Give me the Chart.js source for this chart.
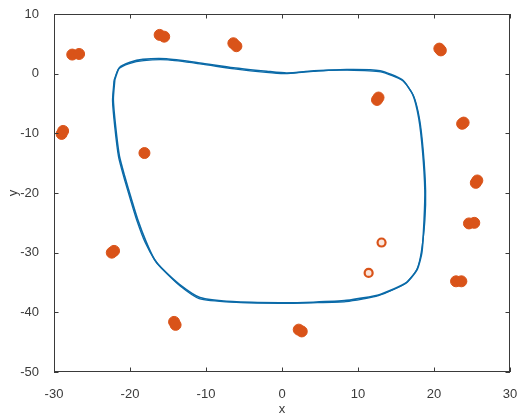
<!DOCTYPE html>
<html>
<head>
<meta charset="utf-8">
<script src="https://cdn.jsdelivr.net/npm/chart.js@4"></script>
<style>
  html, body { margin: 0; padding: 0; background: #ffffff; }
  #wrap { width: 517px; height: 418px; }
</style>
</head>
<body>
<div id="wrap"><canvas id="c" width="517" height="418"></canvas></div>
<script>
// Closed trajectory, first pass (clockwise from the upper-left corner)
const loopX1 = [-22.0, -21.4, -20.0, -18.3, -15.2, -10.8, -6.4, -2.0, 0.6, 4.1, 8.5, 12.9, 15.8, 17.2, 18.0, 18.5, 18.8, 18.7, 18.4, 17.8, 16.4, 12.9, 8.5, 4.1, -0.3, -6.5, -10.8, -13.5, -15.9, -16.8, -17.9, -19.0, -19.8, -20.7, -21.4, -21.9, -22.2, -22.0];
const loopY1 = [-1.0, 1.0, 1.9, 2.4, 2.5, 1.8, 1.0, 0.4, 0.1, 0.4, 0.7, 0.5, -1.0, -3.5, -7.5, -13.0, -19.5, -24.5, -30.0, -32.8, -35.0, -37.0, -38.0, -38.3, -38.4, -38.2, -37.5, -35.3, -32.5, -31.1, -28.1, -24.4, -21.1, -17.2, -13.8, -8.8, -4.3, -1.0];

// Second pass of the same trajectory
const loopX2 = [-22.1, -21.5, -20.1, -18.2, -15.0, -10.6, -6.3, -2.1, 0.4, 4.2, 8.6, 13.0, 15.9, 17.3, 18.1, 18.6, 18.9, 18.8, 18.3, 17.7, 16.2, 12.7, 8.4, 4.0, -0.4, -6.6, -10.9, -13.4, -15.7, -16.7, -18.0, -19.1, -19.9, -20.8, -21.5, -22.0, -22.3, -22.1];
const loopY2 = [-1.1, 0.8, 1.7, 2.2, 2.3, 1.6, 0.8, 0.2, 0.0, 0.5, 0.6, 0.3, -1.2, -3.7, -7.6, -13.1, -19.6, -24.6, -30.1, -32.9, -35.2, -37.2, -38.2, -38.4, -38.5, -38.3, -37.7, -35.6, -32.8, -31.3, -28.3, -24.6, -21.3, -17.4, -14.0, -9.0, -4.5, -1.1];

// Landmark observations (filled clusters)
const markX = [-27.6, -26.7, -16.1, -15.5, -6.4, -6.0, -29.0, -28.8, -18.1, 20.7, 20.9, 12.5, 12.7, 23.7, 23.9, 25.5, 25.7, 24.6, 25.3, 22.9, 23.6, 2.2, 2.6, -22.4, -22.1, -14.2, -14.0];
const markY = [3.2, 3.3, 6.5, 6.2, 5.1, 4.6, -10.1, -9.6, -13.3, 4.2, 3.9, -4.4, -4.0, -8.4, -8.2, -18.3, -17.9, -25.1, -25.0, -34.8, -34.8, -42.9, -43.2, -30.0, -29.7, -41.6, -42.1];

// Single observations (open circles)
const ringX = [13.1, 11.4];
const ringY = [-28.3, -33.4];

// Axis ticks
const xTicks = [-30, -20, -10, 0, 10, 20, 30];
const yTicks = [-50, -40, -30, -20, -10, 0, 10];

const toPoints = (xs, ys) => xs.map((x, i) => ({ x: x, y: ys[i] }));

const BLUE = '#0a6aa8';
const ORANGE = '#D95319';
const AXIS = '#3a3a3a';
const FONT = "'Liberation Sans', Arial, Helvetica, sans-serif";

// Box outline with inward tick marks on all four sides
const boxAxes = {
  id: 'boxAxes',
  afterDatasetsDraw(chart) {
    const { ctx, chartArea: a, scales } = chart;
    const len = 4.5;
    ctx.save();
    ctx.strokeStyle = AXIS;
    ctx.lineWidth = 1;
    ctx.strokeRect(a.left + 0.5, a.top + 0.5, a.right - a.left - 1, a.bottom - a.top - 1);
    ctx.beginPath();
    xTicks.forEach(v => {
      const px = Math.round(scales.x.getPixelForValue(v)) + 0.5;
      ctx.moveTo(px, a.bottom); ctx.lineTo(px, a.bottom - len);
      ctx.moveTo(px, a.top); ctx.lineTo(px, a.top + len);
    });
    yTicks.forEach(v => {
      const py = Math.round(scales.y.getPixelForValue(v)) + 0.5;
      ctx.moveTo(a.left, py); ctx.lineTo(a.left + len, py);
      ctx.moveTo(a.right, py); ctx.lineTo(a.right - len, py);
    });
    ctx.stroke();
    ctx.restore();
  }
};

new Chart(document.getElementById('c'), {
  type: 'scatter',
  data: {
    datasets: [
      { data: toPoints(loopX1, loopY1), showLine: true, pointRadius: 0, borderColor: BLUE, borderWidth: 1.6, tension: 0.2, fill: false, order: 2 },
      { data: toPoints(loopX2, loopY2), showLine: true, pointRadius: 0, borderColor: BLUE, borderWidth: 1.3, tension: 0.2, fill: false, order: 2 },
      { data: toPoints(markX, markY), pointRadius: 5.5, pointBackgroundColor: ORANGE, pointBorderColor: ORANGE, pointBorderWidth: 1, order: 1 },
      { data: toPoints(ringX, ringY), pointRadius: 4, pointBackgroundColor: '#fbe6dc', pointBorderColor: ORANGE, pointBorderWidth: 2.2, order: 1 }
    ]
  },
  options: {
    responsive: false,
    animation: false,
    events: [],
    layout: { padding: { top: 14, right: 7, left: 0, bottom: 0 } },
    plugins: { legend: { display: false }, tooltip: { enabled: false } },
    scales: {
      x: {
        type: 'linear', min: -30, max: 30,
        afterBuildTicks: s => { s.ticks = xTicks.map(v => ({ value: v })); },
        afterFit: s => { s.height = 46; s.paddingLeft = 0; s.paddingRight = 0; },
        grid: { display: false },
        border: { display: false },
        ticks: { color: AXIS, font: { family: FONT, size: 13 }, padding: 7, maxRotation: 0 },
        title: { display: true, text: 'x', color: AXIS, font: { family: FONT, size: 13 }, padding: { top: 0, bottom: 1 } }
      },
      y: {
        type: 'linear', min: -50, max: 10,
        afterBuildTicks: s => { s.ticks = yTicks.map(v => ({ value: v })); },
        afterFit: s => { s.width = 54; s.paddingTop = 0; s.paddingBottom = 0; },
        grid: { display: false },
        border: { display: false },
        ticks: { color: AXIS, font: { family: FONT, size: 13 }, padding: 7 },
        title: { display: true, text: 'y', color: AXIS, font: { family: FONT, size: 13 }, padding: { top: 6, bottom: 0 } }
      }
    }
  },
  plugins: [boxAxes]
});
</script>
</body>
</html>
